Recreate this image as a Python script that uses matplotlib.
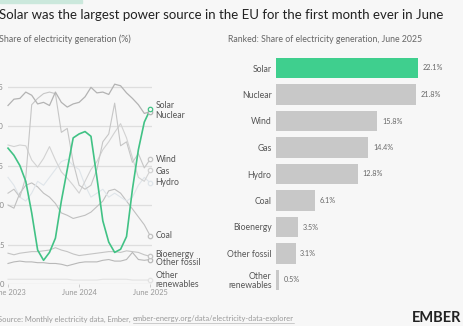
import numpy as np
import matplotlib
matplotlib.use('Agg')
import matplotlib.pyplot as plt
from matplotlib.patches import Rectangle

plt.rcParams['font.family'] = ['Lato', 'DejaVu Sans']

# months June 2023 .. June 2025
months = np.arange(25)
xtick_pos = [0, 12, 24]
xtick_labels = ['June 2023', 'June 2024', 'June 2025']

solar = [17.2, 16.3, 15.0, 13.0, 9.0, 4.3, 3.0, 4.0, 5.8, 10.5, 14.5, 18.5, 19.0,
         19.3, 18.7, 13.5, 8.0, 5.3, 4.0, 4.4, 6.0, 12.0, 17.0, 20.5, 22.1]
nuclear = [22.6, 23.4, 23.5, 24.3, 23.9, 22.8, 23.0, 22.6, 24.3, 23.0, 22.4, 22.8, 23.0,
           23.7, 24.9, 24.2, 24.3, 24.0, 25.3, 25.1, 24.2, 23.5, 22.7, 21.6, 21.8]
wind = [11.5, 12.0, 11.0, 13.5, 22.7, 23.5, 24.1, 24.3, 24.1, 19.2, 19.7, 15.4, 12.5,
        12.0, 12.5, 14.5, 18.0, 19.0, 22.9, 17.5, 18.0, 15.4, 16.5, 14.7, 15.8]
gas = [17.6, 17.4, 17.6, 17.5, 15.7, 14.8, 15.9, 17.4, 15.7, 14.2, 13.4, 12.5, 11.5,
       13.0, 14.5, 15.5, 17.0, 18.0, 19.2, 20.3, 18.5, 16.0, 13.5, 13.0, 14.4]
hydro = [13.5, 12.5, 11.0, 10.5, 11.5, 13.0, 12.5, 13.5, 14.5, 15.5, 15.8, 15.0, 14.5,
         12.5, 11.0, 11.5, 12.0, 11.0, 11.5, 11.0, 10.5, 11.0, 12.5, 13.5, 12.8]
coal = [10.0, 9.6, 11.5, 12.5, 12.8, 12.3, 11.5, 11.0, 10.2, 9.0, 8.7, 8.3, 8.5,
        8.7, 9.1, 9.8, 10.5, 11.8, 12.0, 11.5, 10.5, 9.5, 8.5, 7.5, 6.1]
bioenergy = [3.9, 3.7, 3.9, 4.0, 4.1, 4.1, 4.2, 4.3, 4.6, 4.3, 4.1, 3.8, 3.6,
             3.7, 3.8, 3.9, 4.0, 4.1, 4.1, 4.0, 4.2, 4.1, 4.0, 3.7, 3.5]
other_fossil = [2.6, 2.8, 2.9, 2.8, 2.8, 2.7, 2.7, 2.6, 2.6, 2.5, 2.3, 2.5, 2.7,
                2.8, 2.8, 2.8, 3.0, 3.1, 2.9, 2.9, 3.1, 4.0, 3.1, 3.0, 3.1]
other_renew = [0.6, 0.6, 0.6, 0.6, 0.6, 0.6, 0.6, 0.6, 0.6, 0.6, 0.6, 0.5, 0.5,
               0.5, 0.5, 0.5, 0.6, 0.6, 0.6, 0.6, 0.6, 0.5, 0.5, 0.5, 0.5]

bar_labels = ['Solar', 'Nuclear', 'Wind', 'Gas', 'Hydro', 'Coal', 'Bioenergy',
              'Other fossil', 'Other\nrenewables']
bar_values = [22.1, 21.8, 15.8, 14.4, 12.8, 6.1, 3.5, 3.1, 0.5]

BG = '#f7f7f7'
GREEN = '#3fcf8e'
LINE_GREEN = '#41c285'
GRID = '#dedede'
TXT = '#555555'

fig = plt.figure(figsize=(4.63, 3.26), dpi=100, facecolor=BG)
W, H = 463, 326

def px_axes(x0, y0, x1, y1):
    return fig.add_axes([x0 / W, 1 - y1 / H, (x1 - x0) / W, (y1 - y0) / H])

# decorative strip top-left
fig.patches.append(Rectangle((0, 1 - 2.5 / H), 82 / W, 2.5 / H, transform=fig.transFigure,
                             color='#cbe8dc', zorder=0))

fig.text(-1 / W, 1 - 15 / H, 'Solar was the largest power source in the EU for the first month ever in June',
         fontsize=9.5, color='#222222', va='center', ha='left')
fig.text(-1 / W, 1 - 39 / H, 'Share of electricity generation (%)', fontsize=6.4, color='#666666',
         va='center', ha='left')
fig.text(228 / W, 1 - 39 / H, 'Ranked: Share of electricity generation, June 2025', fontsize=6.3,
         color='#666666', va='center', ha='left')

# ---- left: line chart
ax = px_axes(8, 82.6, 152, 284)
ax.set_facecolor(BG)
ax.set_xlim(0, 24.3)
ax.set_ylim(0, 25.5)
for s in ax.spines.values():
    s.set_visible(False)
ax.set_yticks([0, 5, 10, 15, 20, 25])
ax.set_yticklabels(['0', '5', '10', '15', '20', '25'])
ax.tick_params(axis='y', length=0, pad=3, labelsize=5.5, labelcolor='#888888')
ax.tick_params(axis='x', length=2, width=0.5, color='#bbbbbb', pad=1.5, labelsize=5.4,
               labelcolor='#999999')
ax.set_xticks(xtick_pos)
ax.set_xticklabels(xtick_labels)
ax.grid(axis='y', color=GRID, lw=0.9)
ax.set_axisbelow(True)

series = [
    ('Other\nrenewables', other_renew, '#e2e2e2', 0.8, 0.55),
    ('Other fossil', other_fossil, '#b8b8b8', 0.8, 2.75),
    ('Bioenergy', bioenergy, '#c4c4c4', 0.8, 3.7),
    ('Coal', coal, '#c0c0c0', 0.8, 6.1),
    ('Hydro', hydro, '#dfe5ea', 0.8, 12.8),
    ('Gas', gas, '#d2d2d2', 0.8, 14.3),
    ('Wind', wind, '#c6c6c6', 0.8, 15.8),
    ('Nuclear', nuclear, '#b3b3b3', 0.9, 21.3),
    ('Solar', solar, LINE_GREEN, 1.2, 22.6),
]
for name, vals, col, lw, ly in series:
    ax.plot(months, vals, color=col, lw=lw, solid_joinstyle='round', clip_on=False, zorder=3)
    ax.plot(months[-1], vals[-1], 'o', ms=3.2, mfc=BG, mec=col, mew=0.9, clip_on=False, zorder=4)
    ax.text(24.9, ly, name, fontsize=6.2, color=TXT, va='center', ha='left', linespacing=1.0)

# ---- right: ranked bars
bx = px_axes(275.7, 54.75, 463, 293.25)
bx.patch.set_alpha(0)
ypos = np.arange(len(bar_values))
colors = [GREEN] + ['#c8c8c8'] * (len(bar_values) - 1)
bx.barh(ypos, bar_values, height=0.755, color=colors)
bx.set_xlim(0, 187.3 / 6.44)
bx.set_ylim(len(bar_values) - 0.5, -0.5)
for s in bx.spines.values():
    s.set_visible(False)
bx.set_xticks([])
bx.set_yticks(ypos)
bx.set_yticklabels(bar_labels, fontsize=6.2, color=TXT, linespacing=1.0)
bx.tick_params(axis='y', length=0, pad=3)
for y, v in zip(ypos, bar_values):
    bx.text(v + 0.7, y, f'{v}%', fontsize=5.2, color='#666666', va='center', ha='left')

# ---- footer
src = fig.text(-2 / W, 1 - 319 / H, 'Source: Monthly electricity data, Ember, ', fontsize=5.4,
               color='#999999', va='center', ha='left')
fig.canvas.draw()
bb = src.get_window_extent(fig.canvas.get_renderer())
url = fig.text(bb.x1 / W, 1 - 319 / H, 'ember-energy.org/data/electricity-data-explorer', fontsize=5.4,
               color='#999999', va='center', ha='left')
ub = url.get_window_extent(fig.canvas.get_renderer())
fig.add_artist(plt.Line2D([ub.x0 / W, ub.x1 / W], [1 - 322.8 / H] * 2, color='#aaaaaa', lw=0.4))
fig.text(461 / W, 1 - 318 / H, 'EMBER', fontsize=10.5, fontweight='bold', color='#222222',
         va='center', ha='right')

fig.savefig('out.png', dpi=100, facecolor=BG)
